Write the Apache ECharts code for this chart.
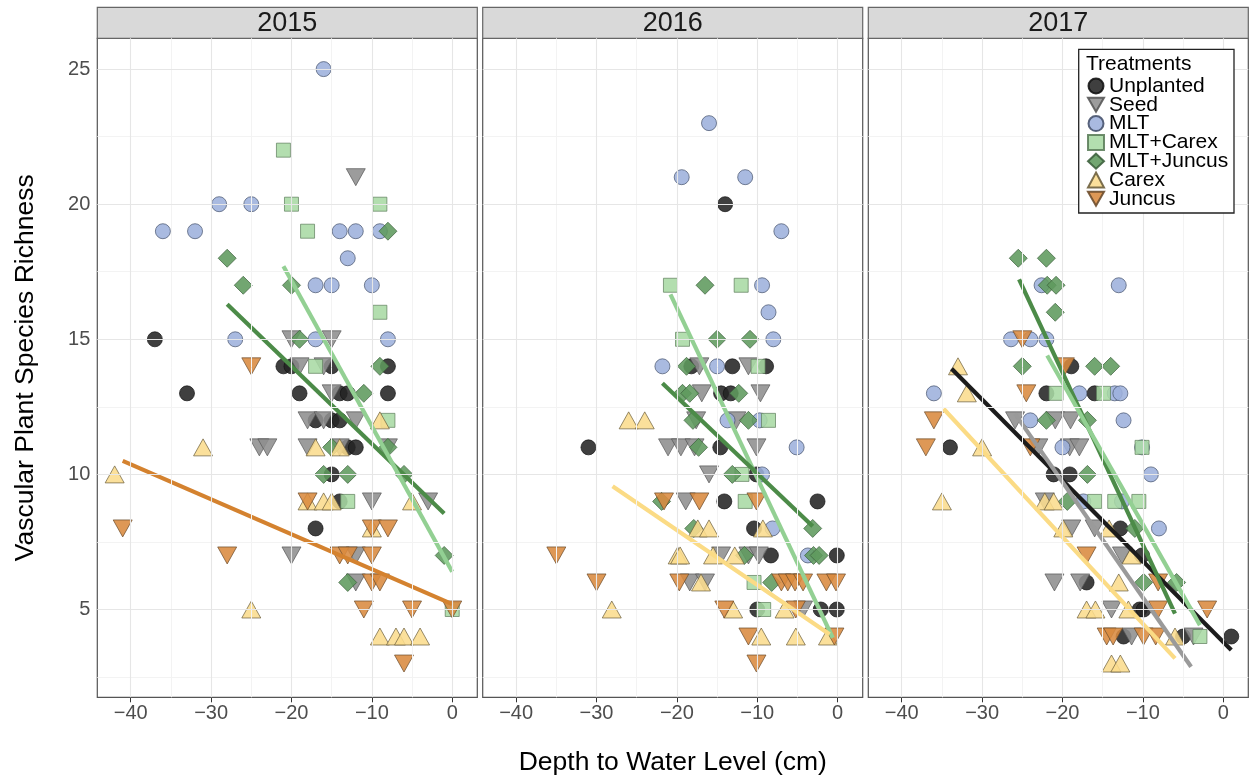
<!DOCTYPE html>
<html>
<head>
<meta charset="utf-8">
<script src="https://cdn.jsdelivr.net/npm/echarts@6/dist/echarts.min.js"></script>
<style>
html,body{margin:0;padding:0;background:#fff;}
#chart{width:1250px;height:784px;}
</style>
</head>
<body>
<div id="chart"></div>
<script>
// ---------- DATA ----------
const years = ['2015', '2016', '2017'];
const treatments = ['Unplanted', 'Seed', 'MLT', 'MLT+Carex', 'MLT+Juncus', 'Carex', 'Juncus'];
const depthTicks = [-40, -30, -20, -10, 0];
const depthMinor = [-35, -25, -15, -5];
const richTicks = [5, 10, 15, 20, 25];
const richMinor = [2.5, 7.5, 12.5, 17.5, 22.5];
const depthRange = [-44.16, 3.12];
const richRange = [1.75, 26.14];

// [depth to water level (cm), species richness]
const unplanted2015 = [[-37,15],[-21,14],[-20,14],[-15,14],[-8,14],[-33,13],[-19,13],[-14,13],[-13,13],[-8,13],[-17,12],[-15,12],[-14,12],[-13,11],[-12,11],[-15,10],[-14,9],[-17,8]];
const seed2015 = [[-12,21],[-20,15],[-15,15],[-19,14],[-16,14],[-15,13],[-18,12],[-16,12],[-12,12],[-24,11],[-23,11],[-18,11],[-14,11],[-8,11],[-10,9],[-3,9],[-20,7],[-12,7],[-12,6]];
const mlt2015 = [[-16,25],[-29,20],[-25,20],[-36,19],[-32,19],[-14,19],[-12,19],[-9,19],[-13,18],[-17,17],[-15,17],[-10,17],[-27,15],[-17,15],[-8,15]];
const mltCarex2015 = [[-21,22],[-20,20],[-9,20],[-18,19],[-9,16],[-17,14],[-8,12],[-13,9],[0,5]];
const mltJuncus2015 = [[-8,19],[-28,18],[-26,17],[-20,17],[-19,15],[-9,14],[-11,13],[-15,11],[-8,11],[-16,10],[-13,10],[-6,10],[-1,7],[-13,6]];
const carex2015 = [[-9,12],[-31,11],[-17,11],[-14,11],[-42,10],[-18,9],[-16,9],[-15,9],[-5,9],[-10,8],[-25,5],[-9,4],[-7,4],[-6,4],[-4,4]];
const juncus2015 = [[-25,14],[-18,9],[-41,8],[-10,8],[-8,8],[-28,7],[-14,7],[-13,7],[-10,7],[-10,6],[-9,6],[-11,5],[-5,5],[0,5],[-6,3]];

const unplanted2016 = [[-14,20],[-18.2,14],[-13.1,14],[-8.9,14],[-14.5,13],[-13.3,13],[-31,11],[-14.6,11],[-10.1,10],[-14.1,9],[-2.5,9],[-10.4,8],[-8.3,7],[-0.1,7],[-10,5],[-2.1,5],[-0.1,5]];
const seed2016 = [[-17.2,14],[-11.1,14],[-16.9,13],[-9.6,13],[-17.6,12],[-12.6,12],[-21.1,11],[-19.5,11],[-17.8,11],[-10.1,11],[-16,10],[-18.9,9],[-14.5,7],[-11.1,7],[-9.8,7],[-18.4,6],[-16.5,6],[-4.3,5]];
const mlt2016 = [[-16,23],[-19.4,21],[-11.5,21],[-7,19],[-9.4,17],[-8.6,16],[-8,15],[-21.8,14],[-15,14],[-13.7,12],[-9.7,12],[-5.1,11],[-9.4,10],[-8.1,8],[-3.7,7]];
const mltCarex2016 = [[-20.8,17],[-12,17],[-19.3,15],[-9.9,14],[-8.6,12],[-11.9,10],[-11.5,9],[-10.4,6],[-9.2,5]];
const mltJuncus2016 = [[-16.5,17],[-15,15],[-10.9,15],[-18.8,14],[-19.3,13],[-18.4,13],[-12.3,13],[-18,12],[-11.1,12],[-17.3,11],[-13.1,10],[-21.9,9],[-17.9,8],[-3.1,8],[-11.6,7],[-3,7],[-2.3,7],[-8.2,6]];
const carex2016 = [[-26,12],[-24,12],[-17.4,8],[-16,8],[-9.3,8],[-19.9,7],[-19.6,7],[-15.5,7],[-12.8,7],[-17,6],[-28.1,5],[-13,5],[-6.6,5],[-9.5,4],[-5.2,4],[-1.2,4]];
const juncus2016 = [[-21.6,9],[-17.2,9],[-10.1,9],[-35,7],[-30,6],[-19.7,6],[-7,6],[-6.2,6],[-5.3,6],[-4.3,6],[-1.4,6],[-0.2,6],[-14.1,5],[-5.2,5],[-11.1,4],[-0.4,4],[-10.1,3]];

const unplanted2017 = [[-18.9,14],[-22,13],[-16,13],[-34,11],[-21.1,10],[-19.1,10],[-12.8,8],[-10.1,7],[-17,6],[-10.4,5],[-9.9,5],[-12.4,4],[-5,4],[1,4]];
const seed2017 = [[-25.9,12],[-20.9,12],[-19,12],[-23,11],[-19.1,11],[-17.9,11],[-22.2,9],[-18.9,8],[-16,8],[-12.6,7],[-21,6],[-17.8,6],[-13.9,5],[-11.4,4],[-3.7,4]];
const mlt2017 = [[-22.6,17],[-13,17],[-26.4,15],[-24,15],[-22,15],[-36,13],[-17.9,13],[-13.5,13],[-12.8,13],[-24,12],[-12.4,12],[-20,11],[-10.1,11],[-9,10],[-17.4,9],[-12.6,9],[-8,8]];
const mltCarex2017 = [[-20.8,13],[-14.9,13],[-10.1,11],[-16,9],[-13.5,9],[-10.5,9],[-2.9,4]];
const mltJuncus2017 = [[-25.5,18],[-22,18],[-21.9,17],[-20.8,17],[-20.9,16],[-25,14],[-16,14],[-14,14],[-22,12],[-16.9,12],[-16.9,10],[-19.4,9],[-11,8],[-9.9,6],[-5.8,6]];
const carex2017 = [[-33,14],[-31.9,13],[-30,11],[-35,9],[-22.2,9],[-21.1,9],[-19.9,8],[-14.2,8],[-11.4,7],[-13,6],[-17,5],[-15.9,5],[-11.8,5],[-6,4],[-13.9,3],[-12.8,3]];
const juncus2017 = [[-25,15],[-19.7,14],[-24.5,13],[-36,12],[-37,11],[-24,11],[-17,7],[-8.1,6],[-8.1,5],[-2,5],[-14.5,4],[-13.7,4],[-9.9,4],[-8.4,4]];

// fitted regression lines (endpoints)
const fitJuncus2015 = [[-41,10.5],[0,5.2]];
const fitMltJuncus2015 = [[-28,16.3],[-1,8.55]];
const fitMltCarex2015 = [[-21,17.7],[0,6.4]];
const fitMltCarex2016 = [[-20.8,16.66],[-0.6,3.95]];
const fitMltJuncus2016 = [[-21.8,13.37],[-3.1,8.08]];
const fitCarex2016 = [[-28,9.56],[-1,4.08]];
const fitUnplanted2017 = [[-33.8,13.91],[1.0,3.5]];
const fitSeed2017 = [[-25.9,12.24],[-4.0,2.88]];
const fitCarex2017 = [[-34.8,12.43],[-6.0,3.19]];
const fitMltJuncus2017 = [[-25.4,17.22],[-6.0,4.85]];
const fitMltCarex2017 = [[-21.9,14.4],[-2.9,4.42]];

// ---------- ASSEMBLY ----------
const points = {
  '2015': {'Unplanted': unplanted2015, 'Seed': seed2015, 'MLT': mlt2015, 'MLT+Carex': mltCarex2015, 'MLT+Juncus': mltJuncus2015, 'Carex': carex2015, 'Juncus': juncus2015},
  '2016': {'Unplanted': unplanted2016, 'Seed': seed2016, 'MLT': mlt2016, 'MLT+Carex': mltCarex2016, 'MLT+Juncus': mltJuncus2016, 'Carex': carex2016, 'Juncus': juncus2016},
  '2017': {'Unplanted': unplanted2017, 'Seed': seed2017, 'MLT': mlt2017, 'MLT+Carex': mltCarex2017, 'MLT+Juncus': mltJuncus2017, 'Carex': carex2017, 'Juncus': juncus2017}
};
const fits = {
  '2015': [['Juncus', fitJuncus2015], ['MLT+Juncus', fitMltJuncus2015], ['MLT+Carex', fitMltCarex2015]],
  '2016': [['MLT+Carex', fitMltCarex2016], ['MLT+Juncus', fitMltJuncus2016], ['Carex', fitCarex2016]],
  '2017': [['Unplanted', fitUnplanted2017], ['Seed', fitSeed2017], ['Carex', fitCarex2017], ['MLT+Juncus', fitMltJuncus2017], ['MLT+Carex', fitMltCarex2017]]
};

const DOWN = 'path://M0,0L2,0L1,1.732Z';
const style = {
  'Unplanted':  {symbol: 'circle',  size: 15,       color: '#242424', border: '#111111', line: '#1c1c1c'},
  'Seed':       {symbol: DOWN,      size: [19, 17], color: '#8e8e8e', border: '#555555', line: '#9a9a9a'},
  'MLT':        {symbol: 'circle',  size: 15,       color: '#9db0dc', border: '#44506a', line: '#9db0dc'},
  'MLT+Carex':  {symbol: 'rect',    size: 14,       color: '#a8d9a4', border: '#5b7d5a', line: '#93d093'},
  'MLT+Juncus': {symbol: 'diamond', size: 18,       color: '#5e9a5d', border: '#3b5f3b', line: '#4c8b48'},
  'Carex':      {symbol: 'triangle',size: [19, 17], color: '#fbdc8d', border: '#6a5c3a', line: '#fbdb85'},
  'Juncus':     {symbol: DOWN,      size: [19, 17], color: '#d98a3f', border: '#6a4a2a', line: '#d4822f'}
};

const FONT = 'Liberation Sans, Arial, sans-serif';
const gridLeft = [97.3, 482.7, 868.3];
const gridTop = 38.3, gridW = 380, gridH = 659;

const grids = [], xAxes = [], yAxes = [], series = [], graphics = [];
const minusFmt = v => (v < 0 ? '\u2212' + Math.abs(v) : String(v));

years.forEach((yr, i) => {
  grids.push({left: gridLeft[i], top: gridTop, width: gridW, height: gridH, show: true,
    backgroundColor: '#ffffff', borderColor: '#555555', borderWidth: 1.2, containLabel: false});
  xAxes.push({type: 'value', gridIndex: i, min: depthRange[0], max: depthRange[1],
    axisLine: {show: false}, splitLine: {show: false},
    axisTick: {show: true, customValues: depthTicks, length: 5, lineStyle: {color: '#333333', width: 1}},
    axisLabel: {show: true, customValues: depthTicks, formatter: minusFmt, fontSize: 20, color: '#4d4d4d', fontFamily: FONT, margin: 6}
  });
  yAxes.push({type: 'value', gridIndex: i, min: richRange[0], max: richRange[1],
    axisLine: {show: false}, splitLine: {show: false},
    axisTick: {show: i === 0, customValues: richTicks, length: 5, lineStyle: {color: '#333333', width: 1}},
    axisLabel: {show: i === 0, customValues: richTicks, fontSize: 20, color: '#4d4d4d', fontFamily: FONT, margin: 7}
  });
  // background gridlines
  const ml = [];
  depthMinor.forEach(v => ml.push({xAxis: v, lineStyle: {color: '#f3f3f3', width: 1, type: 'solid'}}));
  richMinor.forEach(v => ml.push({yAxis: v, lineStyle: {color: '#f3f3f3', width: 1, type: 'solid'}}));
  depthTicks.forEach(v => ml.push({xAxis: v, lineStyle: {color: '#e6e6e6', width: 1.1, type: 'solid'}}));
  richTicks.forEach(v => ml.push({yAxis: v, lineStyle: {color: '#e6e6e6', width: 1.1, type: 'solid'}}));
  series.push({type: 'line', name: 'grid' + yr, xAxisIndex: i, yAxisIndex: i, data: [], z: 1, silent: true,
    markLine: {silent: true, symbol: ['none', 'none'], label: {show: false}, animation: false, data: ml}});
  // strip
  graphics.push({type: 'rect', shape: {x: gridLeft[i], y: 7.3, width: gridW, height: 31}, z: 5,
    style: {fill: '#d9d9d9', stroke: '#666666', lineWidth: 1.2}});
  graphics.push({type: 'text', x: gridLeft[i] + gridW / 2, y: 23.5, z: 6,
    style: {text: yr, font: '27px ' + FONT, fill: '#1a1a1a', align: 'center', verticalAlign: 'middle'}});
});

years.forEach((yr, i) => {
  treatments.forEach(t => {
    const s = style[t];
    series.push({type: 'scatter', name: t, xAxisIndex: i, yAxisIndex: i, z: 3,
      symbol: s.symbol, symbolSize: s.size, data: points[yr][t],
      itemStyle: {color: s.color, borderColor: s.border, borderWidth: 0.8, opacity: 0.88}});
  });
});
years.forEach((yr, i) => {
  fits[yr].forEach(([t, seg]) => {
    series.push({type: 'line', name: t, xAxisIndex: i, yAxisIndex: i, z: 4, data: seg,
      showSymbol: false, symbol: 'none', silent: true,
      lineStyle: {color: style[t].line, width: 4.2}});
  });
});

// axis titles
graphics.push({type: 'text', x: 26, y: gridTop + gridH / 2, rotation: Math.PI / 2, z: 6,
  style: {text: 'Vascular Plant Species Richness', font: '26.5px ' + FONT, fill: '#000', align: 'center', verticalAlign: 'middle'}});
graphics.push({type: 'text', x: 672.8, y: 763, z: 6,
  style: {text: 'Depth to Water Level (cm)', font: '26.5px ' + FONT, fill: '#000', align: 'center', verticalAlign: 'middle'}});
// legend box + title
graphics.push({type: 'rect', shape: {x: 1078.7, y: 49.3, width: 155.3, height: 163.7}, z: 20,
  style: {fill: '#ffffff', stroke: '#222222', lineWidth: 1.3}});
graphics.push({type: 'text', x: 1086, y: 64, z: 21,
  style: {text: 'Treatments', font: '21px ' + FONT, fill: '#000', align: 'left', verticalAlign: 'middle'}});

const legendIcons = {'Unplanted': 'circle', 'Seed': DOWN, 'MLT': 'circle', 'MLT+Carex': 'rect', 'MLT+Juncus': 'diamond', 'Carex': 'triangle', 'Juncus': DOWN};

const option = {
  animation: false,
  backgroundColor: '#ffffff',
  grid: grids, xAxis: xAxes, yAxis: yAxes,
  graphic: graphics,
  legend: {
    show: true, orient: 'vertical', left: 1087, top: 75.5, z: 22, padding: 0,
    itemWidth: 16, itemHeight: 15, itemGap: -2.2, selectedMode: false,
    textStyle: {fontSize: 21, fontFamily: FONT, color: '#000', lineHeight: 19},
    data: treatments.map(t => ({name: t, icon: legendIcons[t]}))
  },
  series: series
};

const chart = echarts.init(document.getElementById('chart'), null, {renderer: 'canvas'});
chart.setOption(option);
</script>
</body>
</html>
